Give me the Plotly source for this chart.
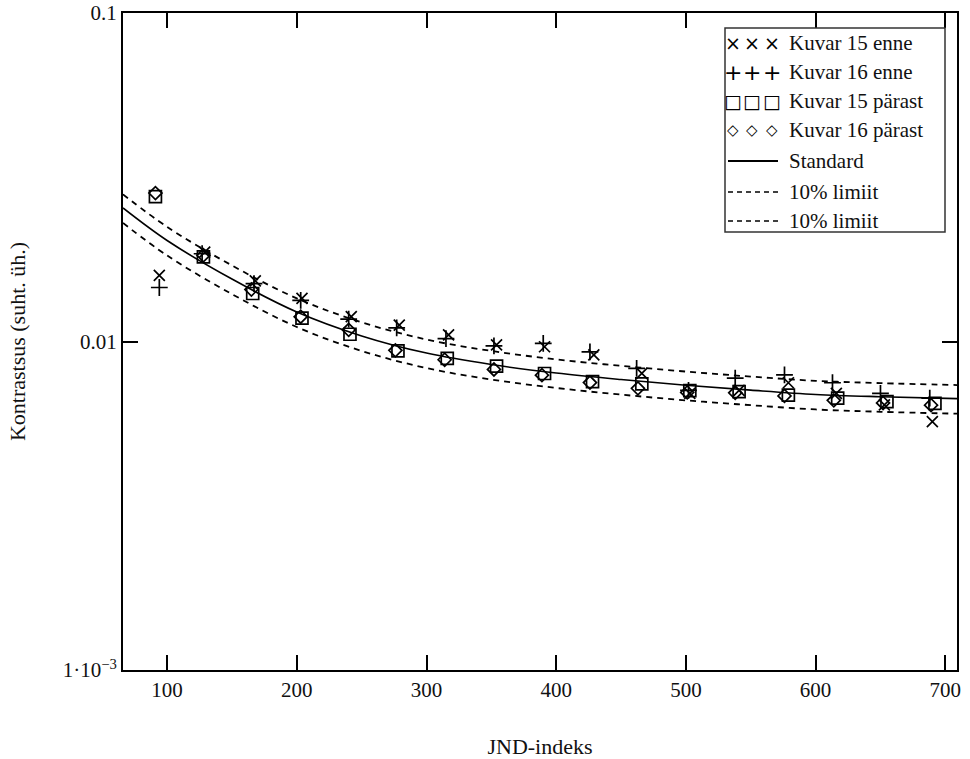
import plotly.graph_objects as go

# JND indices of the measured points (per series, slight offsets as measured)
x_kuvar15_enne = [94, 129, 168, 204, 242, 279, 317, 354, 391, 429, 466, 503, 541, 579, 616, 653, 690]
x_kuvar16_enne = [94, 127, 167, 203, 240, 277, 315, 352, 390, 426, 462, 502, 538, 576, 613, 650, 688]
x_kuvar15_parast = [91, 128, 166, 204, 241, 278, 316, 354, 391, 428, 466, 503, 541, 579, 617, 655, 692]
x_kuvar16_parast = [91, 128, 165, 203, 240, 276, 314, 352, 389, 426, 463, 501, 538, 576, 614, 652, 689]

# Measured contrast per JND
kuvar15_enne = [0.0159, 0.0187, 0.0153, 0.01353, 0.0119, 0.01122, 0.01047, 0.00976, 0.00964,
                0.0091, 0.0080, 0.00695, 0.0071, 0.00749, 0.00695, 0.00641, 0.0057]
kuvar16_enne = [0.0146, 0.0185, 0.0150, 0.01335, 0.0117, 0.0110, 0.0102, 0.0097, 0.00987,
                0.0093, 0.00828, 0.0071, 0.00774, 0.00791, 0.00749, 0.00695, 0.00672]
kuvar15_parast = [0.0276, 0.0181, 0.0140, 0.01178, 0.01052, 0.00937, 0.00889, 0.00842, 0.00799,
                  0.00755, 0.00743, 0.00709, 0.00704, 0.00687, 0.00672, 0.00656, 0.00648]
kuvar16_parast = [0.0283, 0.0183, 0.0144, 0.0119, 0.01085, 0.0094, 0.0088, 0.00822, 0.0079,
                  0.0075, 0.0072, 0.0070, 0.00698, 0.00683, 0.00662, 0.0065, 0.0064]

# Standard response curve and its 10 % limits
x_standard = [66, 100, 150, 200, 250, 300, 350, 400, 450, 500, 550, 600, 650, 709]
standard = [0.0255, 0.0203, 0.01549, 0.0123, 0.0104, 0.00922, 0.00851, 0.00802, 0.00766,
            0.00736, 0.00711, 0.0069, 0.00679, 0.0067]
limit_upper = [0.02805, 0.02233, 0.01704, 0.01353, 0.01144, 0.01014, 0.00936, 0.00882, 0.00843,
               0.0081, 0.00782, 0.00759, 0.00747, 0.00737]
limit_lower = [0.02295, 0.01827, 0.01394, 0.01107, 0.00936, 0.0083, 0.00766, 0.00722, 0.00689,
               0.00662, 0.0064, 0.00621, 0.00611, 0.00603]

x_ticks = [100, 200, 300, 400, 500, 600, 700]
y_ticks = [0.001, 0.01, 0.1]
y_ticktext = ["1\u00b710<sup>\u22123</sup>", "0.01", "0.1"]

legend_labels = ["Kuvar 15 enne", "Kuvar 16 enne", "Kuvar 15 pärast", "Kuvar 16 pärast",
                 "Standard", "10% limiit", "10% limiit"]
legend_glyphs = ["\u00d7", "+", "\u25a1", "\u25c7"]

W, H = 970, 759
ML, MR, MT, MB = 123, 13, 13, 89
PW, PH = W - ML - MR, H - MT - MB

SERIF = "Liberation Serif"
INK = "#111111"


def px_x(px):
    return (px - ML) / PW


def px_y(py):
    return (H - MB - py) / PH


fig = go.Figure()

line_traces = [
    (standard, dict(color="black", width=1.6)),
    (limit_upper, dict(color="black", width=1.8, dash="6px,5px")),
    (limit_lower, dict(color="black", width=1.8, dash="6px,5px")),
]
for ys, ln in line_traces:
    fig.add_trace(go.Scatter(x=x_standard, y=ys, mode="lines", line=ln,
                             line_shape="spline", showlegend=False, hoverinfo="skip"))

marker_traces = [
    (x_kuvar15_parast, kuvar15_parast, "square-open", 12),
    (x_kuvar16_parast, kuvar16_parast, "diamond-open", 10),
    (x_kuvar15_enne, kuvar15_enne, "x-thin", 11),
    (x_kuvar16_enne, kuvar16_enne, "cross-thin", 12),
]
for xs, ys, sym, size in marker_traces:
    fig.add_trace(go.Scatter(x=xs, y=ys, mode="markers", showlegend=False,
                             marker=dict(symbol=sym, size=size, color="black",
                                         line=dict(color="black", width=1.7))))

# Legend box drawn as text rows inside a framed rectangle
box_l, box_t, box_r, box_b = 725, 28, 945, 232
fig.add_shape(type="rect", xref="paper", yref="paper",
              x0=px_x(box_l), x1=px_x(box_r), y0=px_y(box_b), y1=px_y(box_t),
              line=dict(color="#333333", width=1.5), fillcolor="white", layer="above")

row_y = [43, 72, 101, 130, 161, 192, 221]
sym_x = [733, 752, 772]
glyph_sizes = [19, 22, 19, 15]
annotations = []
for i, label in enumerate(legend_labels):
    annotations.append(dict(x=px_x(787), y=px_y(row_y[i]), xref="paper", yref="paper",
                            text=label, showarrow=False, xanchor="left", yanchor="middle",
                            font=dict(family=SERIF, size=21, color=INK)))
for i, glyph in enumerate(legend_glyphs):
    for sx in sym_x:
        annotations.append(dict(x=px_x(sx), y=px_y(row_y[i]), xref="paper", yref="paper",
                                text=glyph, showarrow=False, xanchor="center", yanchor="middle",
                                font=dict(family="DejaVu Sans", size=glyph_sizes[i], color="black")))
fig.add_shape(type="line", xref="paper", yref="paper",
              x0=px_x(728), x1=px_x(778), y0=px_y(row_y[4]), y1=px_y(row_y[4]),
              line=dict(color="black", width=2), layer="above")
for r in (5, 6):
    fig.add_shape(type="line", xref="paper", yref="paper",
                  x0=px_x(728), x1=px_x(778), y0=px_y(row_y[r]), y1=px_y(row_y[r]),
                  line=dict(color="black", width=1.4, dash="5px,4px"), layer="above")

axis_common = dict(showgrid=False, zeroline=False, showline=True, linecolor="black",
                   linewidth=2, mirror="ticks", ticks="inside", ticklen=15, tickwidth=2,
                   tickcolor="black", automargin=False,
                   tickfont=dict(family=SERIF, size=21, color=INK))

fig.update_layout(
    width=W, height=H,
    margin=dict(l=ML, r=MR, t=MT, b=MB, pad=0),
    paper_bgcolor="white", plot_bgcolor="white",
    font=dict(family=SERIF, color=INK),
    annotations=annotations,
    xaxis=dict(range=[66, 709], tickvals=x_ticks,
               title=dict(text="JND-indeks", standoff=37,
                          font=dict(family=SERIF, size=22, color=INK)),
               **axis_common),
    yaxis=dict(type="log", range=[-3, -1], tickvals=y_ticks, ticktext=y_ticktext,
               title=dict(text="Kontrastsus (suht. üh.)", standoff=31,
                          font=dict(family=SERIF, size=22, color=INK)),
               **axis_common),
)

fig.write_html("out.html")
